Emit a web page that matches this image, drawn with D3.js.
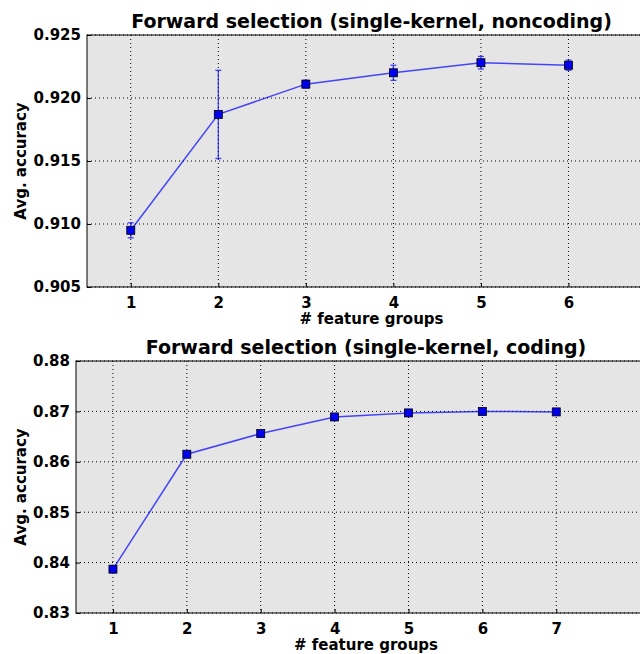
<!DOCTYPE html>
<html>
<head>
<meta charset="utf-8">
<script src="https://cdn.jsdelivr.net/npm/d3@7"></script>
<style>
  body { margin: 0; background: #fff; }
  text { font-family: "DejaVu Sans", sans-serif; font-weight: bold; }
</style>
</head>
<body>
<script>
//data for the noncoding panel
var ncGroups = [1, 2, 3, 4, 5, 6];
var ncAcc = [0.9095, 0.9187, 0.9211, 0.9220, 0.9228, 0.9226];
var ncErr = [0.0006, 0.0035, 0.0003, 0.0006, 0.0005, 0.0004];
var ncYTicks = [0.905, 0.910, 0.915, 0.920, 0.925];

//data for the coding panel
var cGroups = [1, 2, 3, 4, 5, 6, 7];
var cAcc = [0.8387, 0.8615, 0.8656, 0.8689, 0.8697, 0.8700, 0.8699];
var cErr = [0.0001, 0.0001, 0.0002, 0.0003, 0.0001, 0.0001, 0.0001];
var cYTicks = [0.83, 0.84, 0.85, 0.86, 0.87, 0.88];

var W = 640, H = 654;
var svg = d3.select("body").append("svg")
    .attr("width", W)
    .attr("height", H);

function panel(cfg) {
    var x = d3.scaleLinear().domain(cfg.xDomain).range([cfg.left, cfg.right]);
    var y = d3.scaleLinear().domain(cfg.yDomain).range([cfg.bottom, cfg.top]);
    var g = svg.append("g");

    //axes background
    g.append("rect")
        .attr("x", cfg.left).attr("y", cfg.top)
        .attr("width", cfg.right - cfg.left)
        .attr("height", cfg.bottom - cfg.top)
        .style("fill", "#e5e5e5");

    //grid lines
    g.selectAll(".vgrid").data(cfg.groups).enter().append("line")
        .attr("x1", function (d) { return x(d); })
        .attr("x2", function (d) { return x(d); })
        .attr("y1", cfg.top).attr("y2", cfg.bottom)
        .style("stroke", "#000").style("stroke-width", 1)
        .style("stroke-dasharray", "1,3");
    g.selectAll(".hgrid").data(cfg.yTicks).enter().append("line")
        .attr("y1", function (d) { return y(d); })
        .attr("y2", function (d) { return y(d); })
        .attr("x1", cfg.left).attr("x2", cfg.right)
        .style("stroke", "#000").style("stroke-width", 1)
        .style("stroke-dasharray", "1,3");

    //axes
    var xAxis = d3.axisBottom(x).tickValues(cfg.groups).tickFormat(d3.format("d"))
        .tickSizeInner(-4).tickSizeOuter(0).tickPadding(10);
    g.append("g")
        .attr("transform", "translate(0," + cfg.bottom + ")")
        .call(xAxis)
        .call(function (s) { s.select(".domain").remove(); })
        .selectAll("text").style("font-size", "15px").style("fill", "#000");
    var yAxis = d3.axisLeft(y).tickValues(cfg.yTicks).tickFormat(d3.format(cfg.yFormat))
        .tickSizeInner(-4).tickSizeOuter(0).tickPadding(6);
    g.append("g")
        .attr("transform", "translate(" + cfg.left + ",0)")
        .call(yAxis)
        .call(function (s) { s.select(".domain").remove(); })
        .selectAll("text").style("font-size", "15px").style("fill", "#000");

    //axes frame
    g.append("rect")
        .attr("x", cfg.left).attr("y", cfg.top)
        .attr("width", cfg.right - cfg.left)
        .attr("height", cfg.bottom - cfg.top)
        .style("fill", "none").style("stroke", "#000").style("stroke-width", 1);

    var pts = cfg.groups.map(function (d, i) {
        return { g: d, v: cfg.acc[i], e: cfg.err[i] };
    });

    //error bars
    var eb = g.selectAll(".err").data(pts).enter().append("g")
        .style("stroke", "#0000ff").style("stroke-opacity", 0.7).style("stroke-width", 1.3);
    eb.append("line")
        .attr("x1", function (d) { return x(d.g); })
        .attr("x2", function (d) { return x(d.g); })
        .attr("y1", function (d) { return y(d.v - d.e); })
        .attr("y2", function (d) { return y(d.v + d.e); });
    [-1, 1].forEach(function (s) {
        eb.append("line")
            .attr("x1", function (d) { return x(d.g) - 3; })
            .attr("x2", function (d) { return x(d.g) + 3; })
            .attr("y1", function (d) { return y(d.v + s * d.e); })
            .attr("y2", function (d) { return y(d.v + s * d.e); });
    });

    //line
    var line = d3.line()
        .x(function (d) { return x(d.g); })
        .y(function (d) { return y(d.v); });
    g.append("path")
        .datum(pts)
        .attr("d", line)
        .style("fill", "none")
        .style("stroke", "#0000ff").style("stroke-opacity", 0.7)
        .style("stroke-width", 1.5);

    //markers
    g.selectAll(".mk").data(pts).enter().append("rect")
        .attr("x", function (d) { return x(d.g) - 4; })
        .attr("y", function (d) { return y(d.v) - 4; })
        .attr("width", 8).attr("height", 8)
        .style("fill", "#0000ee")
        .style("stroke", "#000").style("stroke-width", 0.8);

    //title
    g.append("text")
        .attr("x", (cfg.left + cfg.right) / 2)
        .attr("y", cfg.top - 7)
        .attr("text-anchor", "middle")
        .style("font-size", "19px")
        .text(cfg.title);

    //axis labels
    g.append("text")
        .attr("x", (cfg.left + cfg.right) / 2)
        .attr("y", cfg.bottom + 37)
        .attr("text-anchor", "middle")
        .style("font-size", "15px")
        .text("# feature groups");
    g.append("text")
        .attr("transform", "translate(26," + (cfg.top + cfg.bottom) / 2 + ") rotate(-90)")
        .attr("text-anchor", "middle")
        .style("font-size", "15px")
        .text("Avg. accuracy");
}

panel({
    title: "Forward selection (single-kernel, noncoding)",
    groups: ncGroups, acc: ncAcc, err: ncErr, yTicks: ncYTicks,
    xDomain: [0.5, 7], yDomain: [0.905, 0.925], yFormat: ".3f",
    left: 87, right: 656, top: 35, bottom: 287
});

panel({
    title: "Forward selection (single-kernel, coding)",
    groups: cGroups, acc: cAcc, err: cErr, yTicks: cYTicks,
    xDomain: [0.5, 8.35], yDomain: [0.83, 0.88], yFormat: ".2f",
    left: 76, right: 656, top: 361, bottom: 613
});
</script>
</body>
</html>
